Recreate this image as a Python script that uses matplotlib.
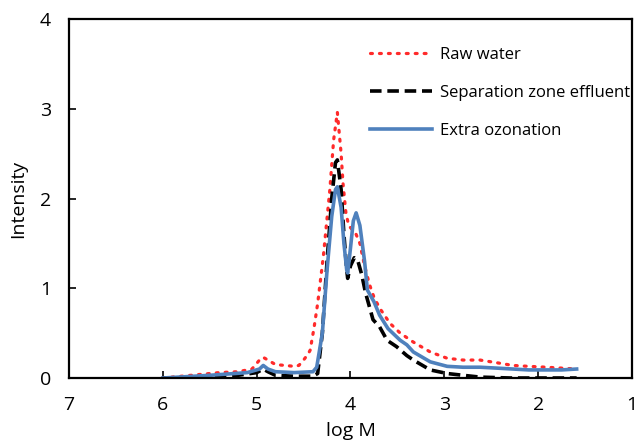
import numpy as np
import matplotlib.pyplot as plt

plt.rcParams['font.family'] = ['Open Sans', 'DejaVu Sans']

# Raw water
raw_x = [6.0, 5.8, 5.6, 5.4, 5.2, 5.05, 4.97, 4.93, 4.88, 4.8, 4.7, 4.6, 4.55, 4.5,
         4.45, 4.43, 4.39, 4.35, 4.29, 4.22, 4.18, 4.14, 4.10, 4.08, 4.05, 4.02,
         3.98, 3.94, 3.90, 3.85, 3.80, 3.75, 3.69, 3.58, 3.47, 3.33, 3.15, 2.97,
         2.8, 2.62, 2.44, 2.27, 2.1, 1.91, 1.75, 1.59]
raw_y = [0.0, 0.02, 0.04, 0.06, 0.07, 0.10, 0.20, 0.23, 0.20, 0.15, 0.14, 0.13, 0.14, 0.20,
         0.27, 0.31, 0.55, 0.83, 1.35, 2.10, 2.65, 2.96, 2.50, 2.17, 1.85, 1.70,
         1.65, 1.60, 1.50, 1.25, 1.05, 0.90, 0.78, 0.61, 0.50, 0.40, 0.29, 0.22,
         0.20, 0.20, 0.17, 0.14, 0.13, 0.12, 0.11, 0.10]

# Separation zone effluent
sep_x = [6.0, 5.6, 5.2, 5.0, 4.93, 4.88, 4.8, 4.6, 4.4, 4.35, 4.30, 4.25, 4.20,
         4.16, 4.14, 4.10, 4.07, 4.04, 4.03, 4.00, 3.96, 3.92, 3.88, 3.84, 3.80,
         3.76, 3.69, 3.61, 3.51, 3.40, 3.33, 3.15, 2.97, 2.8, 2.62, 2.3, 2.0, 1.59]
sep_y = [0.0, 0.01, 0.03, 0.06, 0.10, 0.07, 0.03, 0.02, 0.02, 0.05, 0.50, 1.30, 2.00,
         2.40, 2.43, 2.10, 1.60, 1.20, 1.11, 1.25, 1.34, 1.30, 1.15, 0.95, 0.80,
         0.65, 0.57, 0.42, 0.35, 0.25, 0.20, 0.09, 0.05, 0.03, 0.01, 0.0, 0.0, 0.0]

# Extra ozonation
ozo_x = [6.0, 5.5, 5.1, 4.97, 4.93, 4.88, 4.8, 4.6, 4.4, 4.36, 4.30, 4.25, 4.20,
         4.16, 4.14, 4.10, 4.07, 4.04, 4.03, 4.00, 3.97, 3.94, 3.90, 3.85, 3.82,
         3.75, 3.69, 3.60, 3.47, 3.40, 3.33, 3.15, 2.97, 2.8, 2.62, 2.44, 2.27,
         2.1, 1.91, 1.75, 1.59]
ozo_y = [0.0, 0.03, 0.06, 0.10, 0.14, 0.10, 0.07, 0.06, 0.07, 0.12, 0.50, 1.20, 1.80,
         2.10, 2.13, 1.90, 1.50, 1.20, 1.17, 1.45, 1.75, 1.84, 1.70, 1.30, 0.98,
         0.85, 0.70, 0.55, 0.42, 0.37, 0.29, 0.18, 0.13, 0.12, 0.12, 0.11, 0.10,
         0.09, 0.09, 0.09, 0.10]

fig = plt.figure(figsize=(6.34, 4.46), dpi=100)
ax = fig.add_axes([69 / 634, 1 - 378 / 446, (632 - 69) / 634, (378 - 19) / 446])

ax.plot(raw_x, raw_y, color='#ff2a2a', linestyle=(0, (0.6, 2.2)), linewidth=2.3,
        dash_capstyle='round', label='Raw water')
ax.plot(sep_x, sep_y, color='black', linestyle=(0, (3.2, 1.6)), linewidth=2.6,
        label='Separation zone effluent')
ax.plot(ozo_x, ozo_y, color='#4f81bd', linewidth=2.6, label='Extra ozonation')

ax.set_xlim(7, 1)
ax.set_ylim(0, 4)
ax.set_xticks([7, 6, 5, 4, 3, 2, 1])
ax.set_yticks([0, 1, 2, 3, 4])
ax.tick_params(direction='in', length=5, width=1.2, labelsize=14)
ax.tick_params(axis='x', pad=13)
ax.tick_params(axis='y', pad=13)
for s in ax.spines.values():
    s.set_linewidth(1.6)

ax.set_xlabel('log M', fontsize=14, labelpad=6)
ax.set_ylabel('Intensity', fontsize=14, labelpad=9)

ax.legend(loc='upper right', bbox_to_anchor=(1.009, 0.94), frameon=False, fontsize=12,
          handlelength=3.7, labelspacing=1.3, handletextpad=0.5, borderaxespad=0.0)

fig.savefig('out.png', dpi=100)
